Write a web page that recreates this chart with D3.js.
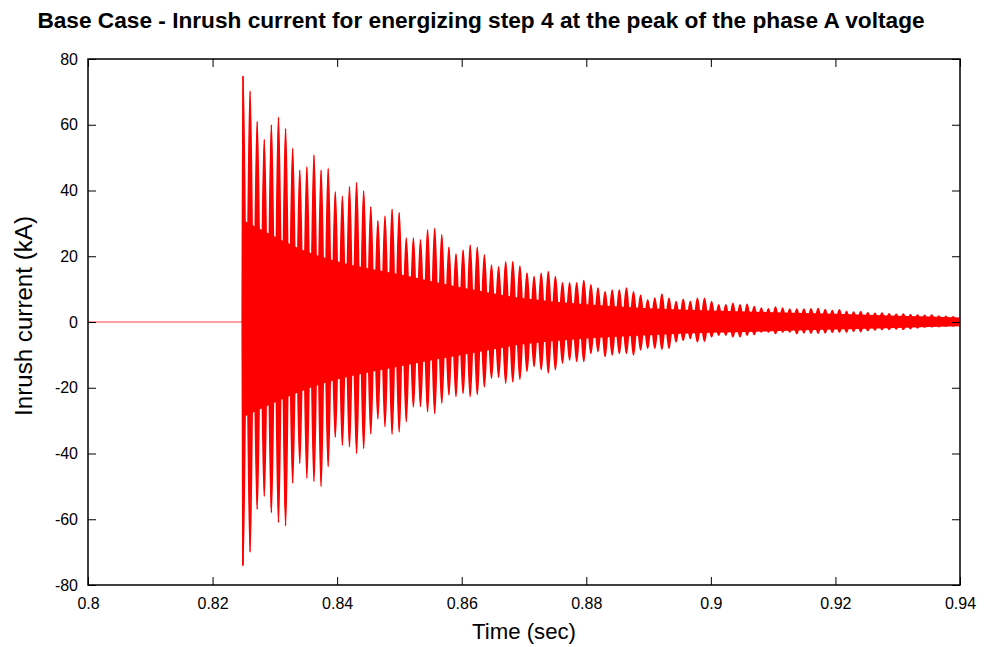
<!DOCTYPE html>
<html><head><meta charset="utf-8">
<script src="https://cdn.jsdelivr.net/npm/d3@7"></script>
<style>
body{margin:0;background:#fff;}
svg{display:block;font-family:"Liberation Sans",Arial,Helvetica,sans-serif;}
</style>
</head><body>
<svg id="chart" width="992" height="647"></svg>
<script>
// ---- data ----
const titleText = "Base Case - Inrush current for energizing step 4 at the peak of the phase A voltage";
const xLabelText = "Time (sec)";
const yLabelText = "Inrush current (kA)";
const xTickValues = [0.8, 0.82, 0.84, 0.86, 0.88, 0.9, 0.92, 0.94];
const xTickLabels = ["0.8", "0.82", "0.84", "0.86", "0.88", "0.9", "0.92", "0.94"];
const yTickValues = [-80, -60, -40, -20, 0, 20, 40, 60, 80];
const yTickLabels = ["-80", "-60", "-40", "-20", "0", "20", "40", "60", "80"];

// before energizing: flat zero current
const preTimes = [0.8, 0.82488];
const preValues = [0, 0];

// burst: one positive and one negative peak per visible oscillation tooth
const burstStart = 0.82488;   // s, first tooth
const burstPeriod = 0.00114;  // s, spacing between teeth
const upperPeaks = [
  74.8, 70.3, 61, 55.5, 60, 62.3, 58.9, 52.8, 46.2, 47.2,
  50.8, 46.2, 46.7, 39.6, 38.3, 41.2, 42.4, 39.9, 35, 30.8,
  32.2, 34.3, 33.3, 25.5, 25.5, 25, 28, 28.5, 26.5, 22.7,
  20.7, 21.9, 23.4, 22.7, 20.4, 17.3, 16.8, 18.3, 18.4, 17,
  14.9, 13.8, 14.8, 15.3, 13.8, 11.9, 11.9, 11.9, 12.6, 11.3,
  10.3, 9.2, 9.7, 9.7, 10.3, 9.2, 8.2, 6.7, 7.3, 8.5,
  7.2, 6.2, 6.9, 6.3, 7.2, 7.2, 6.2, 5.2, 5.2, 5.7,
  5.2, 5.4, 4.7, 4.2, 4.0, 4.5, 4.2, 3.9, 3.9, 3.9,
  4.0, 4.1, 3.8, 3.5, 3.7, 3.2, 3.0, 3.1, 2.8, 2.6,
  2.7, 2.5, 2.3, 2.4, 2.2, 2.1, 2.0, 2.1, 1.8, 1.7,
  1.6
];
const lowerPeaks = [
  -74, -70, -57, -53, -58, -61, -62, -49, -43, -47.5,
  -48.5, -50, -44, -35, -37.5, -38, -40, -38.5, -34, -29.5,
  -31.8, -34.1, -33.4, -30.3, -25.8, -25.7, -27.3, -27.8, -24.7, -22.2,
  -22.7, -21.7, -22.7, -22, -19.7, -17.1, -16.8, -18.6, -18.2, -17.4,
  -15, -13.5, -14.5, -15.5, -14.5, -12.5, -11.5, -12, -12, -9.5,
  -9, -10.5, -10, -9.5, -9.5, -10, -8.5, -8, -8, -8.3,
  -8, -6, -5.5, -5, -6, -5.8, -4.5, -4, -4, -4.5,
  -4.5, -4, -3.8, -3, -3, -3.5, -3, -3, -3.5, -3.3,
  -3.4, -3.4, -3.3, -3.1, -3.0, -3.0, -2.8, -2.9, -2.6, -2.4,
  -2.3, -2.2, -2.1, -2.2, -2.0, -1.8, -1.6, -1.5, -1.4, -1.3,
  -1.2
];

// solid inner band of the burst
const coreTimes = [0.82488, 0.83, 0.835, 0.84, 0.85, 0.86, 0.87, 0.88, 0.89, 0.90, 0.91, 0.92, 0.93, 0.94];
const coreHigh  = [31, 26, 21.5, 18.5, 14.5, 10.5, 7.2, 5.4, 4.2, 3.5, 3.0, 2.5, 1.9, 1.4];
const coreLow   = [-29, -24.5, -20.5, -17.5, -13.5, -10, -6.8, -5, -4, -3.3, -2.8, -2.3, -1.8, -1.3];

// ---- layout ----
const W = 992, H = 647;
const m = {left: 88, right: 32, top: 59, bottom: 62};
const svg = d3.select("#chart");

const x = d3.scaleLinear().domain([0.8, 0.94]).range([m.left, W - m.right]);
const y = d3.scaleLinear().domain([-80, 80]).range([H - m.bottom, m.top]);

svg.append("defs").append("clipPath").attr("id", "clip")
  .append("rect")
  .attr("x", m.left).attr("y", m.top)
  .attr("width", W - m.left - m.right).attr("height", H - m.top - m.bottom);

const plot = svg.append("g").attr("clip-path", "url(#clip)");
const red = "#ff0000";

// pre-energizing line
plot.append("path")
  .datum(preTimes.map((t, i) => [t, preValues[i]]))
  .attr("fill", "none").attr("stroke", red).attr("stroke-opacity", 0.75).attr("stroke-width", 1)
  .attr("d", d3.line().x(d => x(d[0])).y(d => y(d[1])));

// core band
plot.append("path")
  .datum(coreTimes.map((t, i) => ({t, hi: coreHigh[i], lo: coreLow[i]})))
  .attr("fill", red)
  .attr("d", d3.area().curve(d3.curveMonotoneX)
    .x(d => x(d.t)).y0(d => y(d.lo)).y1(d => y(d.hi)));

// oscillation teeth: each tooth spans from its negative to its positive peak
const teeth = [{t: burstStart - burstPeriod * 0.1, hi: 0, lo: 0}];
upperPeaks.forEach((v, i) => {
  const t = burstStart + i * burstPeriod;
  teeth.push({t, hi: v, lo: lowerPeaks[i]});
  teeth.push({t: t + burstPeriod * 0.5, hi: 0, lo: 0});
});
plot.append("path")
  .datum(teeth)
  .attr("fill", red).attr("stroke", red).attr("stroke-width", 1.7)
  .attr("stroke-linejoin", "round")
  .attr("d", d3.area().curve(d3.curveMonotoneX)
    .x(d => x(d.t)).y0(d => y(d.lo)).y1(d => y(d.hi)));

// first spike drawn as a thin line
plot.append("path")
  .datum([[burstStart, lowerPeaks[0]], [burstStart, upperPeaks[0]]])
  .attr("fill", "none").attr("stroke", red).attr("stroke-width", 1.2)
  .attr("d", d3.line().x(d => x(d[0])).y(d => y(d[1])));

// ---- axes ----
const fontSize = 16;
const gx = svg.append("g").attr("transform", `translate(0,${H - m.bottom})`)
  .call(d3.axisBottom(x).tickValues(xTickValues).tickSize(-8).tickPadding(13)
    .tickFormat((d, i) => xTickLabels[i]));
const gxt = svg.append("g").attr("transform", `translate(0,${m.top})`)
  .call(d3.axisTop(x).tickValues(xTickValues).tickSize(-8).tickFormat(""));
const gy = svg.append("g").attr("transform", `translate(${m.left},0)`)
  .call(d3.axisLeft(y).tickValues(yTickValues).tickSize(-8).tickPadding(10)
    .tickFormat((d, i) => yTickLabels[i]));
const gyr = svg.append("g").attr("transform", `translate(${W - m.right},0)`)
  .call(d3.axisRight(y).tickValues(yTickValues).tickSize(-8).tickFormat(""));

[gx, gxt, gy, gyr].forEach(g => {
  g.select(".domain").remove();
  g.selectAll(".tick line").attr("stroke", "#000").attr("stroke-width", 1);
  g.selectAll("text").attr("font-size", fontSize).attr("fill", "#000")
    .attr("font-family", '"Liberation Sans",Arial,sans-serif');
});

// frame
svg.append("rect")
  .attr("x", m.left).attr("y", m.top)
  .attr("width", W - m.left - m.right).attr("height", H - m.top - m.bottom)
  .attr("fill", "none").attr("stroke", "#000").attr("stroke-width", 1.5);

// ---- titles ----
function fitText(sel, base, target) {
  sel.attr("font-size", base);
  const len = sel.node().getComputedTextLength();
  if (len > 0) sel.attr("font-size", base * target / len);
}
const title = svg.append("text")
  .attr("x", 481).attr("y", 28)
  .attr("text-anchor", "middle").attr("font-weight", "bold").attr("fill", "#000")
  .text(titleText);
fitText(title, 19, 888);

const xl = svg.append("text")
  .attr("x", 524).attr("y", 639)
  .attr("text-anchor", "middle").attr("fill", "#000")
  .text(xLabelText);
fitText(xl, 19, 104);

const yl = svg.append("text")
  .attr("transform", `translate(32,316) rotate(-90)`)
  .attr("text-anchor", "middle").attr("fill", "#000")
  .text(yLabelText);
fitText(yl, 19, 200);
</script>
</body></html>
